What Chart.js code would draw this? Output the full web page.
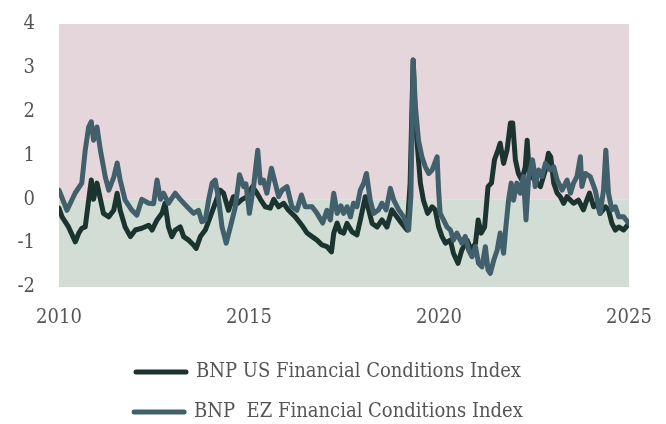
<!DOCTYPE html>
<html>
<head>
<meta charset="utf-8">
<script src="https://cdn.jsdelivr.net/npm/chart.js@4.4.1/dist/chart.umd.min.js"></script>
<style>
  body { margin: 0; background: #fff; }
</style>
</head>
<body>
<canvas id="myChart" width="666" height="424"></canvas>
<script>
// values (decimal years)
var usDates = [2010.00,2010.08,2010.25,2010.43,2010.52,2010.60,2010.69,2010.78,2010.85,2010.91,2011.00,2011.09,2011.17,2011.31,2011.44,2011.53,2011.61,2011.74,2011.88,2012.01,2012.18,2012.36,2012.45,2012.58,2012.71,2012.79,2012.88,2012.97,2013.06,2013.19,2013.28,2013.41,2013.54,2013.61,2013.72,2013.85,2013.98,2014.11,2014.24,2014.33,2014.46,2014.59,2014.70,2014.82,2014.95,2015.09,2015.21,2015.30,2015.43,2015.56,2015.65,2015.78,2015.91,2016.04,2016.22,2016.39,2016.53,2016.66,2016.79,2016.92,2017.05,2017.17,2017.23,2017.32,2017.40,2017.49,2017.58,2017.71,2017.84,2017.93,2018.06,2018.15,2018.24,2018.37,2018.50,2018.63,2018.76,2018.89,2019.02,2019.16,2019.24,2019.32,2019.38,2019.44,2019.51,2019.59,2019.70,2019.82,2019.90,2019.99,2020.08,2020.17,2020.30,2020.38,2020.50,2020.60,2020.74,2020.85,2020.96,2021.03,2021.11,2021.20,2021.29,2021.38,2021.46,2021.55,2021.61,2021.70,2021.79,2021.88,2021.94,2022.01,2022.09,2022.18,2022.27,2022.32,2022.38,2022.46,2022.58,2022.67,2022.80,2022.88,2022.94,2023.02,2023.11,2023.19,2023.28,2023.37,2023.46,2023.54,2023.67,2023.80,2023.89,2023.96,2024.07,2024.16,2024.24,2024.38,2024.46,2024.55,2024.64,2024.73,2024.86,2025.00];
var usValues = [-0.20,-0.40,-0.63,-0.97,-0.77,-0.66,-0.63,-0.02,0.44,0.00,0.37,0.00,-0.32,-0.40,-0.25,0.14,-0.25,-0.63,-0.85,-0.70,-0.66,-0.59,-0.70,-0.47,-0.32,-0.09,-0.63,-0.85,-0.70,-0.63,-0.85,-0.93,-1.04,-1.12,-0.85,-0.70,-0.40,-0.09,0.21,0.14,-0.25,0.06,-0.09,0.00,0.06,0.29,0.14,0.00,-0.17,-0.20,0.00,-0.17,-0.09,-0.25,-0.40,-0.59,-0.77,-0.85,-0.93,-1.04,-1.08,-1.20,-0.77,-0.54,-0.74,-0.77,-0.55,-0.74,-0.81,-0.47,0.06,-0.24,-0.55,-0.63,-0.47,-0.63,-0.24,-0.40,-0.55,-0.70,0.37,3.18,1.74,1.12,0.37,-0.02,-0.32,-0.17,-0.24,-0.63,-0.85,-1.00,-0.93,-1.23,-1.46,-1.16,-0.93,-1.16,-1.00,-0.47,-0.77,-0.63,0.29,0.37,0.90,1.12,1.28,0.82,1.12,1.74,1.74,0.90,0.59,0.44,0.74,1.35,0.52,0.50,0.37,0.29,0.67,1.05,0.97,0.37,0.14,0.06,-0.09,0.06,-0.02,-0.09,-0.02,-0.24,-0.02,0.14,-0.17,-0.09,-0.32,-0.17,-0.24,-0.55,-0.70,-0.63,-0.70,-0.55];

var ezDates = [2010.00,2010.21,2010.43,2010.60,2010.69,2010.78,2010.85,2010.91,2011.00,2011.09,2011.22,2011.31,2011.44,2011.53,2011.61,2011.74,2011.92,2012.05,2012.18,2012.36,2012.49,2012.58,2012.67,2012.75,2012.88,2013.06,2013.19,2013.37,2013.54,2013.67,2013.76,2013.85,2013.94,2014.03,2014.11,2014.20,2014.29,2014.40,2014.51,2014.64,2014.75,2014.86,2014.92,2015.01,2015.12,2015.23,2015.30,2015.38,2015.47,2015.59,2015.69,2015.78,2015.87,2016.00,2016.13,2016.26,2016.38,2016.48,2016.66,2016.79,2016.94,2017.05,2017.14,2017.23,2017.32,2017.42,2017.49,2017.58,2017.67,2017.75,2017.84,2017.93,2018.02,2018.09,2018.19,2018.28,2018.41,2018.50,2018.61,2018.72,2018.81,2018.94,2019.07,2019.20,2019.26,2019.32,2019.38,2019.46,2019.55,2019.64,2019.73,2019.82,2019.95,2019.99,2020.03,2020.12,2020.21,2020.30,2020.38,2020.47,2020.60,2020.69,2020.78,2020.87,2020.96,2021.04,2021.13,2021.22,2021.29,2021.35,2021.44,2021.53,2021.61,2021.70,2021.76,2021.83,2021.90,2021.96,2022.05,2022.14,2022.22,2022.29,2022.36,2022.46,2022.49,2022.53,2022.62,2022.71,2022.80,2022.93,2023.02,2023.11,2023.24,2023.37,2023.46,2023.54,2023.63,2023.72,2023.76,2023.85,2023.98,2024.11,2024.24,2024.33,2024.39,2024.46,2024.55,2024.64,2024.73,2024.86,2025.00];
var ezValues = [0.21,-0.25,0.15,0.37,1.12,1.65,1.77,1.35,1.65,1.12,0.50,0.21,0.50,0.83,0.44,-0.02,-0.25,-0.36,0.00,-0.09,-0.10,0.44,0.00,0.14,-0.09,0.14,0.00,-0.17,-0.32,-0.25,-0.51,-0.47,0.00,0.37,0.44,0.00,-0.63,-1.00,-0.63,-0.17,0.56,0.29,0.35,-0.32,0.29,1.12,0.37,0.44,0.14,0.71,0.37,0.06,0.21,0.29,-0.17,-0.25,0.10,-0.17,-0.17,-0.32,-0.54,-0.25,-0.47,0.14,-0.32,-0.15,-0.32,-0.17,-0.40,-0.09,-0.17,0.21,0.37,0.59,-0.02,-0.32,-0.24,-0.09,-0.24,0.25,-0.02,-0.24,-0.40,-0.70,0.06,3.18,2.11,1.35,0.97,0.74,0.59,0.67,0.97,0.20,-0.32,-0.47,-0.63,-0.70,-0.93,-0.77,-1.00,-0.85,-1.16,-1.31,-1.08,-1.46,-1.54,-1.08,-1.61,-1.69,-1.39,-1.16,-0.77,-1.23,-0.63,-0.02,0.37,-0.02,0.37,0.14,0.52,-0.47,0.52,0.90,0.74,0.29,0.67,0.52,0.82,0.67,0.74,0.44,0.21,0.44,0.14,0.37,0.52,0.97,0.29,0.59,0.52,0.21,-0.32,0.21,1.12,0.14,-0.24,-0.17,-0.40,-0.40,-0.55];

var yearTicks = [2010, 2015, 2020, 2025];
var fontFamily = "'DejaVu Serif Condensed', 'DejaVu Serif', serif";

function toPoints(dates, values) {
  return dates.map(function(d, i) { return {x: d, y: values[i]}; });
}

// pink band above zero, green band below
var bands = {
  id: 'bands',
  beforeDatasetsDraw: function(chart) {
    var ctx = chart.ctx, a = chart.chartArea, y = chart.scales.y;
    var zero = y.getPixelForValue(0);
    ctx.save();
    ctx.fillStyle = '#e5d6db';
    ctx.fillRect(a.left, a.top, a.right - a.left, zero - a.top);
    ctx.fillStyle = '#d1ddd5';
    ctx.fillRect(a.left, zero, a.right - a.left, a.bottom - zero);
    ctx.restore();
  }
};

// legend sits lower and a bit further right than chart.js would put it
var legendShift = {
  id: 'legendShift',
  beforeInit: function(chart) {
    var origFit = chart.legend.fit;
    chart.legend.fit = function() {
      origFit.bind(chart.legend)();
      this.height -= 8;
    };
  },
  afterLayout: function(chart) {
    chart.legend.left += 14;
    chart.legend.right += 14;
  }
};

var ctx = document.getElementById('myChart').getContext('2d');
var myChart = new Chart(ctx, {
  type: 'line',
  data: {
    datasets: [{
      label: 'BNP US Financial Conditions Index',
      data: toPoints(usDates, usValues),
      borderColor: '#1b3430',
      backgroundColor: '#1b3430',
      borderWidth: 5,
      pointRadius: 0,
      order: 2
    }, {
      label: 'BNP  EZ Financial Conditions Index',
      data: toPoints(ezDates, ezValues),
      borderColor: '#425f6c',
      backgroundColor: '#425f6c',
      borderWidth: 5,
      pointRadius: 0,
      order: 1
    }]
  },
  options: {
    responsive: false,
    animation: false,
    layout: { padding: { top: 24, right: 37, left: 0, bottom: 0 } },
    elements: { line: { tension: 0, borderJoinStyle: 'round', borderCapStyle: 'round' } },
    plugins: {
      tooltip: { enabled: false },
      legend: {
        position: 'bottom',
        labels: {
          boxWidth: 50,
          boxHeight: 0,
          padding: 20,
          color: '#555555',
          font: { family: fontFamily, size: 20 },
          sort: function(a, b) { return a.datasetIndex - b.datasetIndex; }
        }
      }
    },
    scales: {
      x: {
        type: 'linear',
        min: 2010,
        max: 2025,
        afterFit: function(s) {
          s.height = 55;
          s.paddingLeft = 0;
          s.paddingRight = 0;
        },
        afterBuildTicks: function(s) { s.ticks = yearTicks.map(function(v) { return {value: v}; }); },
        grid: { display: false, drawTicks: false },
        border: { display: false },
        ticks: {
          padding: 19,
          color: '#555555',
          font: { family: fontFamily, size: 20 },
          maxRotation: 0,
          callback: function(v) { return String(v); }
        }
      },
      y: {
        min: -2,
        max: 4,
        afterFit: function(s) {
          s.width = 59;
          s.paddingTop = 0;
          s.paddingBottom = 0;
        },
        grid: { display: false, drawTicks: false },
        border: { display: false },
        ticks: {
          stepSize: 1,
          padding: 24,
          color: '#555555',
          font: { family: fontFamily, size: 20 }
        }
      }
    }
  },
  plugins: [bands, legendShift]
});
</script>
</body>
</html>
